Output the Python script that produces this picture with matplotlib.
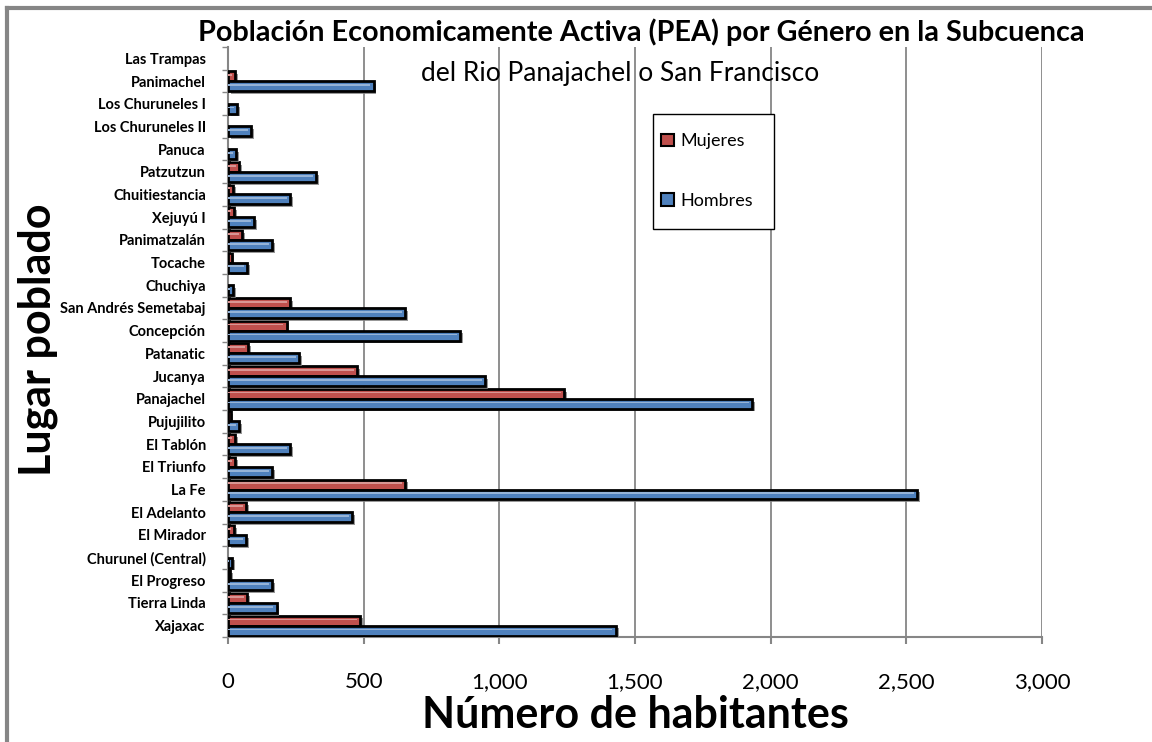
import numpy as np
import matplotlib
matplotlib.use("Agg")
import matplotlib.pyplot as plt
import matplotlib.patheffects as pe
from matplotlib.lines import Line2D
from matplotlib.patches import Patch, Rectangle
from matplotlib.ticker import FuncFormatter

lugares = ["Las Trampas", "Panimachel", "Los Churuneles I", "Los Churuneles II",
           "Panuca", "Patzutzun", "Chuitiestancia", "Xejuyú I", "Panimatzalán",
           "Tocache", "Chuchiya", "San Andrés Semetabaj", "Concepción",
           "Patanatic", "Jucanya", "Panajachel", "Pujujilito", "El Tablón",
           "El Triunfo", "La Fe", "El Adelanto", "El Mirador",
           "Churunel (Central)", "El Progreso", "Tierra Linda", "Xajaxac"]
mujeres = [0, 25, 0, 0, 0, 40, 20, 23, 53, 13, 0, 230, 216, 75, 477, 1239,
           10, 26, 26, 653, 66, 23, 0, 7, 71, 488]
hombres = [0, 537, 35, 85, 30, 326, 230, 97, 164, 71, 20, 654, 855, 261, 947,
           1931, 42, 228, 164, 2541, 458, 66, 15, 164, 179, 1429]
x_ticks = [0, 500, 1000, 1500, 2000, 2500, 3000]

font = "Lato"
red, blue = "#C0504D", "#4F81BD"

fig = plt.figure(figsize=(11.52, 7.42), dpi=100)
ax = fig.add_axes([228 / 1152, 1 - 637 / 742, 814 / 1152, 590 / 742])

n = len(lugares)
pos = np.arange(n)[::-1]
h = 0.44
shadow = [pe.SimplePatchShadow(offset=(2, -2), shadow_rgbFace="#7f7f7f", alpha=0.8), pe.Normal()]

for vals, col, off in [(mujeres, red, h / 2), (hombres, blue, -h / 2)]:
    bars = ax.barh(pos + off, vals, height=h, color=col, edgecolor="black",
                   linewidth=2, zorder=3)
    for b, v in zip(bars, vals):
        if v == 0:
            b.set_visible(False)
        b.set_path_effects(shadow)
    # light bevel stripe
    light = "#D99694" if col == red else "#95B3D7"
    ax.barh(pos + off + h * 0.12, np.maximum(np.array(vals) - 12, 0), height=h * 0.18,
            color=light, linewidth=0, zorder=4)

ax.set_xlim(0, 3000)
ax.set_ylim(-0.5, n - 0.5)
ax.set_xticks(x_ticks)
ax.xaxis.set_major_formatter(FuncFormatter(lambda v, p: f"{int(v):,}"))
ax.set_yticks(pos)
ax.set_yticklabels(lugares, fontsize=10.5, fontweight="bold", family=font)
ax.set_yticks(np.arange(n + 1) - 0.5, minor=True)
ax.tick_params(axis="y", which="major", length=0, pad=16)
ax.tick_params(axis="y", which="minor", length=4, color="#868686", width=1)
ax.tick_params(axis="x", length=5, color="#868686", width=1.5, pad=20, labelsize=16)
for lab in ax.get_xticklabels():
    lab.set_family(font)

ax.grid(axis="x", color="#868686", linewidth=1.3, zorder=0)
ax.set_axisbelow(True)
for s in ["top", "right"]:
    ax.spines[s].set_visible(False)
ax.spines["left"].set_color("#868686")
ax.spines["left"].set_linewidth(1.5)
ax.spines["bottom"].set_color("#868686")
ax.spines["bottom"].set_linewidth(1.5)

fig.text(641 / 1152, 1 - 32 / 742,
         "Población Economicamente Activa (PEA) por Género en la Subcuenca",
         ha="center", va="center", fontsize=20.7, fontweight="bold", family=font)
fig.text(620 / 1152, 1 - 73 / 742, "del Rio Panajachel o San Francisco",
         ha="center", va="center", fontsize=19, family=font)
fig.text(635 / 1152, 1 - 715 / 742, "Número de habitantes", ha="center", va="center",
         fontsize=31, fontweight="bold", family=font)
fig.text(38 / 1152, 1 - 340 / 742, "Lugar poblado", ha="center", va="center",
         rotation=90, fontsize=31, fontweight="bold", family=font)

# legend box drawn separately so its size matches
fig.add_artist(Rectangle((653 / 1152, 1 - 229 / 742), 121 / 1152, 115 / 742,
                         transform=fig.transFigure, facecolor="white",
                         edgecolor="black", linewidth=1.0, zorder=5))
handles = [Patch(facecolor=red, edgecolor="black", linewidth=1.5),
           Patch(facecolor=blue, edgecolor="black", linewidth=1.5)]
leg = fig.legend(handles, ["Mujeres", "Hombres"], loc="center left",
                 bbox_to_anchor=(656 / 1152, 1 - 171 / 742),
                 prop={"family": font, "size": 13}, frameon=False,
                 labelspacing=2.4, handlelength=0.7, handleheight=0.7, handletextpad=0.35,
                 borderpad=0.3, borderaxespad=0)
leg.set_zorder(6)

# outer chart border
fig.add_artist(Line2D([7 / 1152, 7 / 1152], [0, 1 - 8 / 742], transform=fig.transFigure,
                      color="#868686", linewidth=3))
fig.add_artist(Line2D([7 / 1152, 1], [1 - 8 / 742, 1 - 8 / 742], transform=fig.transFigure,
                      color="#868686", linewidth=3))

fig.savefig("out.png", dpi=100)
